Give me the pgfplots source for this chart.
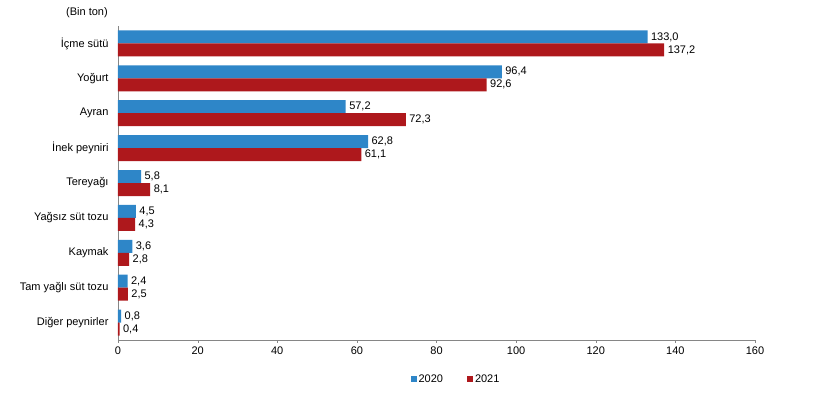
\documentclass[border=0pt]{standalone}
\usepackage{pgfplots}
\pgfplotsset{compat=1.18}
\usepackage{fontspec}
\setmainfont{Liberation Sans}
\definecolor{cblue}{RGB}{46,134,200}
\definecolor{cred}{RGB}{174,24,28}
\definecolor{axgray}{RGB}{134,134,134}
\begin{document}
\begin{tikzpicture}[x=1pt,y=1pt]
\path[use as bounding box] (0,0) rectangle (838,393);
\node[font=\fontsize{11}{13}\selectfont] at (87,380) {(Bin ton)};
\begin{axis}[
  at={(118pt,53pt)}, anchor=south west,
  scale only axis,
  width=637pt, height=314pt,
  xbar, bar width=13pt,
  xmin=0, xmax=160,
  ymin=-0.5, ymax=8.5,
  xtick={0,20,...,160},
  ytick={0,...,8},
  yticklabels={Diğer peynirler, Tam yağlı süt tozu, Kaymak, Yağsız süt tozu, Tereyağı, İnek peyniri, Ayran, Yoğurt, İçme sütü},
  axis x line*=bottom, axis y line*=left,
  axis line style={draw=axgray, -},
  x axis line style={-},
  y axis line style={-},
  xtick style={draw=axgray},
  major tick length=3pt,
  xtick pos=bottom,
  xtick align=outside,
  ytick style={draw=none},
  yticklabel style={xshift=-3pt},
  tick label style={font=\fontsize{11}{13}\selectfont},
  /pgf/number format/assume math mode=true,
  nodes near coords,
  nodes near coords style={font=\fontsize{11}{13}\selectfont, anchor=west, text=black,
    /pgf/number format/.cd, fixed, fixed zerofill, precision=1, use comma, assume math mode=true},
  legend style={at={(338pt,-39pt)}, anchor=center, draw=none, legend columns=2,
    font=\fontsize{11}{13}\selectfont, /tikz/every even column/.append style={column sep=22pt}},
  legend image code/.code={\fill[#1] (0pt,-3pt) rectangle (6pt,3pt);},
  clip=false,
]
\addplot[fill=cblue, draw=none, bar shift=6.5pt] coordinates {
 (0.8,0) (2.4,1) (3.6,2) (4.5,3) (5.8,4) (62.8,5) (57.2,6) (96.4,7) (133.0,8)};
\addlegendentry{2020}
\addplot[fill=cred, draw=none, bar shift=-6.5pt] coordinates {
 (0.4,0) (2.5,1) (2.8,2) (4.3,3) (8.1,4) (61.1,5) (72.3,6) (92.6,7) (137.2,8)};
\addlegendentry{2021}
\end{axis}
\end{tikzpicture}
\end{document}
